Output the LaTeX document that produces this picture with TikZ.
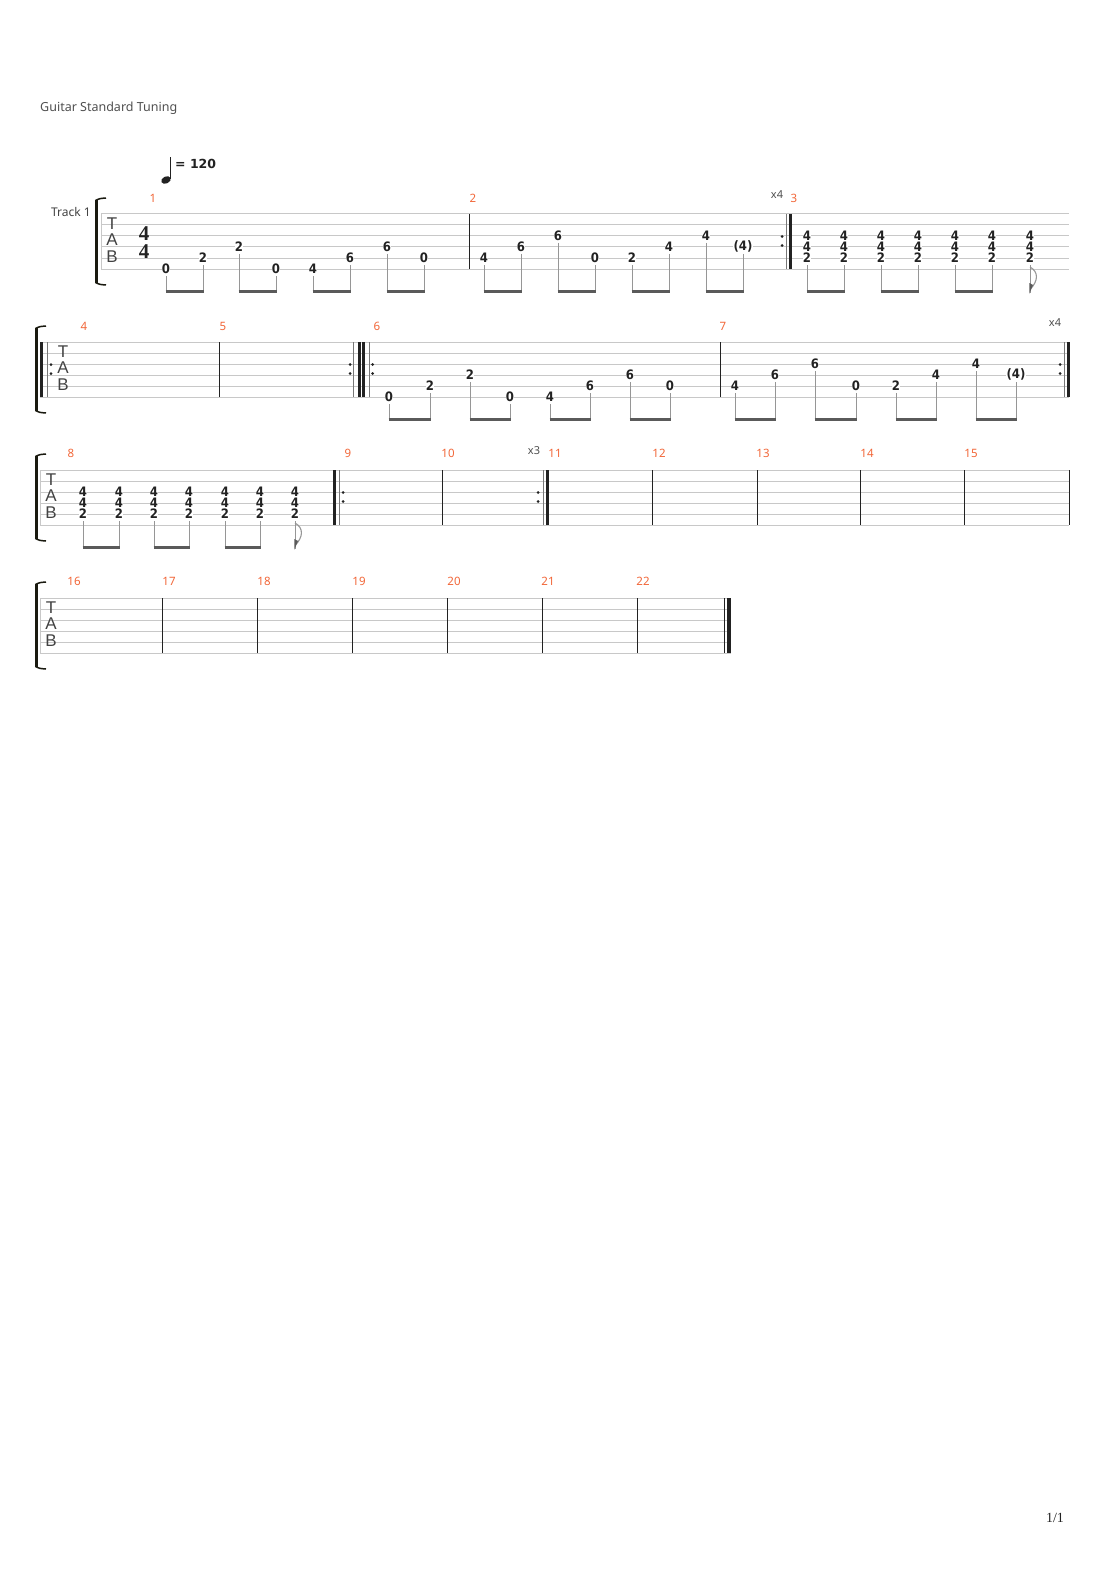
\documentclass[tikz,border=0pt]{standalone}
\usepackage{fontspec}
\setmainfont{Noto Sans}
\newfontfamily\tsfont{Liberation Serif}
\newfontfamily\tabfont{Liberation Sans}
\newfontfamily\fretfont{DejaVu Sans Condensed}
\newfontfamily\tempofont{DejaVu Sans}
\definecolor{staffc}{RGB}{200,200,200}
\definecolor{barc}{RGB}{34,34,34}
\definecolor{thinrep}{RGB}{120,120,120}
\definecolor{stemc}{RGB}{150,150,150}
\definecolor{beamc}{RGB}{90,90,90}
\definecolor{numc}{RGB}{242,102,56}
\definecolor{txtc}{RGB}{80,80,80}
\definecolor{brc}{RGB}{26,26,16}
\tikzset{
 staffline/.style={draw=staffc, line width=1pt},
 barline/.style={draw=barc, line width=1pt},
 thinbar/.style={draw=thinrep, line width=1pt},
 thickbar/.style={draw=barc, line width=3pt},
 fret/.style={font=\fretfont\bfseries\fontsize{13}{13}\selectfont, text=barc, fill=white, inner sep=0.4pt},
 stemline/.style={draw=stemc, line width=1pt},
 beamline/.style={draw=beamc, line width=3pt},
 mnum/.style={font=\fontsize{11.5}{11.5}\selectfont, text=numc, inner sep=0},
 reptext/.style={font=\fontsize{11}{11}\selectfont, text=txtc, inner sep=0},
 tabletter/.style={font=\tabfont\fontsize{17}{17}\selectfont, text=barc!85, inner sep=0},
 bracketbar/.style={draw=brc, line width=3pt},
 brackethook/.style={draw=brc, line width=1.5pt},
 tsig/.style={font=\tsfont\bfseries\fontsize{21}{21}\selectfont, inner sep=0, text=barc},
}
\newcommand\staffsys[3]{\foreach \k in {0,...,5}{\draw[staffline] (#2,{#1+11*\k}) -- (#3,{#1+11*\k});}}
\newcommand\tbar[2]{\draw[barline] (#1,#2) -- (#1,{#2+55});}
\newcommand\tthin[2]{\draw[thinbar] (#1,#2) -- (#1,{#2+55});}
\newcommand\tthick[2]{\draw[thickbar] (#1,#2) -- (#1,{#2+55});}
\newcommand\tdots[2]{\fill[barc] (#1,{#2+22.5}) circle (1.5pt); \fill[barc] (#1,{#2+31.5}) circle (1.5pt);}
\newcommand\tnote[4]{%
 \node[fret] (f#1-#2-#3) at (#1,{#2+11*(#3-1)-0.5}) {#4};
 \draw[stemline] (#1,{#2+11*(#3-1)+7}) -- (#1,{#2+77});}
\newcommand\tchord[2]{%
 \node[fret] (c#1-#2-a) at (#1,{#2+21.5}) {4};
 \node[fret] (c#1-#2-b) at (#1,{#2+32.5}) {4};
 \node[fret] (c#1-#2-c) at (#1,{#2+43.5}) {2};}
\newcommand\tchordstem[2]{\draw[stemline] (#1,{#2+51}) -- (#1,{#2+77});}
\newcommand\tbeam[3]{\draw[beamline] ({#1-0.5},{#3+77}) -- ({#2+0.5},{#3+77});}
\newcommand\tflag[2]{%
 \draw[stemline] (#1,{#2+51}) -- (#1,{#2+79});
 \draw[draw=stemc, line width=1.1pt] (#1,{#2+53}) .. controls ({#1+9},{#2+58}) and ({#1+8},{#2+67}) .. ({#1+0.5},{#2+75});
 \fill[beamc] ({#1-0.6},{#2+79.5}) -- ({#1-0.6},{#2+69}) -- ({#1+3},{#2+71}) -- cycle;}
\newcommand\tbracket[2]{%
 \draw[bracketbar] (#1,{#2-14}) -- (#1,{#2+69});
 \draw[brackethook] ({#1-1},{#2-13.5}) .. controls ({#1+3},{#2-15.5}) .. ({#1+9.5},{#2-16});
 \draw[brackethook] ({#1-1},{#2+68.5}) .. controls ({#1+3},{#2+70.5}) .. ({#1+9.5},{#2+71});}
\newcommand\tabmark[2]{%
 \node[tabletter] (T#1-#2) at (#1,{#2+10}) {T};
 \node[tabletter] (A#1-#2) at (#1,{#2+26}) {A};
 \node[tabletter] (B#1-#2) at (#1,{#2+42.5}) {B};}
\begin{document}
\begin{tikzpicture}[x=1pt,y=-1pt]
\useasboundingbox (0,0) rectangle (1110,1570);
\fill[white] (0,0) rectangle (1110,1570);

% header
\node[anchor=west, inner sep=0, font=\fontsize{12.5}{12.5}\selectfont, text=txtc] (tuning) at (40,108) {Guitar Standard Tuning};
\fill[barc, rotate around={25:(166,180)}] (166,180) ellipse (5pt and 3.5pt);
\draw[barc, line width=1.2pt] (170.4,179) -- (170.4,157);
\node[anchor=west, inner sep=0, font=\tempofont\bfseries\fontsize{12.5}{12.5}\selectfont, text=barc] (tempo) at (175,164) {= 120};
\node[anchor=east, inner sep=0, font=\fontsize{12}{12}\selectfont, text=barc!85] (track) at (91,212) {Track 1};

% ===== System 1 =====
\staffsys{214}{101}{1069}
\tbracket{96.5}{214}
\draw[staffline] (101,214) -- (101,269);
\tabmark{112}{214}
\node[tsig] (ts1) at (144,234) {4};
\node[tsig] (ts2) at (144,252) {4};
\tbar{469}{214}
\tdots{782}{214}\tthin{786.5}{214}\tthick{790.5}{214}
\node[mnum] (m1) at (153,198) {1};
\node[mnum] (m2) at (473,198) {2};
\node[mnum] (m3) at (794,198) {3};
\node[reptext] (r1) at (777,195) {x4};
\foreach \x/\s/\l in {166/6/0, 203/5/2, 239/4/2, 276/6/0, 313/6/4, 350/5/6, 387/4/6, 424/5/0}{\tnote{\x}{214}{\s}{\l}}
\foreach \a/\b in {166/203, 239/276, 313/350, 387/424}{\tbeam{\a}{\b}{214}}
\foreach \x/\s/\l in {484/5/4, 521/4/6, 558/3/6, 595/5/0, 632/5/2, 669/4/4, 706/3/4, 743/4/{(4)}}{\tnote{\x}{214}{\s}{\l}}
\foreach \a/\b in {484/521, 558/595, 632/669, 706/743}{\tbeam{\a}{\b}{214}}
\foreach \x in {807,844,881,918,955,992,1030}{\tchord{\x}{214}}
\foreach \x in {807,844,881,918,955,992}{\tchordstem{\x}{214}}
\foreach \a/\b in {807/844, 881/918, 955/992}{\tbeam{\a}{\b}{214}}
\tflag{1030}{214}

% ===== System 2 =====
\staffsys{342}{40}{1069}
\tbracket{36.5}{342}
\tthick{41.5}{342}\tthin{47}{342}\tdots{51}{342}
\tabmark{63}{342}
\tbar{219}{342}
\tdots{350}{342}\tthin{353.5}{342}\tthick{359.5}{342}\tthick{363.5}{342}\tthin{369}{342}\tdots{372.5}{342}
\tbar{720}{342}
\tdots{1060}{342}\tthin{1064}{342}\tthick{1068}{342}
\node[mnum] (m4) at (84,326) {4};
\node[mnum] (m5) at (223,326) {5};
\node[mnum] (m6) at (377,326) {6};
\node[mnum] (m7) at (723,326) {7};
\node[reptext] (r2) at (1055,323) {x4};
\foreach \x/\s/\l in {389/6/0, 430/5/2, 470/4/2, 510/6/0, 550/6/4, 590/5/6, 630/4/6, 670/5/0}{\tnote{\x}{342}{\s}{\l}}
\foreach \a/\b in {389/430, 470/510, 550/590, 630/670}{\tbeam{\a}{\b}{342}}
\foreach \x/\s/\l in {735/5/4, 775/4/6, 815/3/6, 856/5/0, 896/5/2, 936/4/4, 976/3/4, 1016/4/{(4)}}{\tnote{\x}{342}{\s}{\l}}
\foreach \a/\b in {735/775, 815/856, 896/936, 976/1016}{\tbeam{\a}{\b}{342}}

% ===== System 3 =====
\staffsys{470}{40}{1069}
\tbracket{36.5}{470}
\draw[staffline] (40,470) -- (40,525);
\tabmark{51}{470}
\tthick{334}{470}\tthin{339.5}{470}\tdots{343}{470}
\tbar{442}{470}
\tdots{538}{470}\tthin{543}{470}\tthick{547.5}{470}
\foreach \x in {652,757,860,964,1069}{\tbar{\x}{470}}
\node[mnum] (m8) at (71,453) {8};
\node[mnum] (m9) at (348,453) {9};
\node[mnum] (m10) at (448,453) {10};
\node[mnum] (m11) at (555,453) {11};
\node[mnum] (m12) at (659,453) {12};
\node[mnum] (m13) at (763,453) {13};
\node[mnum] (m14) at (867,453) {14};
\node[mnum] (m15) at (971,453) {15};
\node[reptext] (r3) at (534,451) {x3};
\foreach \x in {83,119,154,189,225,260,295}{\tchord{\x}{470}}
\foreach \x in {83,119,154,189,225,260}{\tchordstem{\x}{470}}
\foreach \a/\b in {83/119, 154/189, 225/260}{\tbeam{\a}{\b}{470}}
\tflag{295}{470}

% ===== System 4 =====
\staffsys{598}{40}{731}
\tbracket{36.5}{598}
\draw[staffline] (40,598) -- (40,653);
\tabmark{51}{598}
\foreach \x in {162,257,352,447,542,637,724}{\tbar{\x}{598}}
\draw[barc, line width=3.5pt] (729,598) -- (729,653);
\node[mnum] (m16) at (74,581) {16};
\node[mnum] (m17) at (169,581) {17};
\node[mnum] (m18) at (264,581) {18};
\node[mnum] (m19) at (359,581) {19};
\node[mnum] (m20) at (454,581) {20};
\node[mnum] (m21) at (548,581) {21};
\node[mnum] (m22) at (643,581) {22};

% page number
\node[inner sep=0, font=\tsfont\fontsize{14}{14}\selectfont, text=barc] (page) at (1055,1518) {1/1};
\end{tikzpicture}
\end{document}
